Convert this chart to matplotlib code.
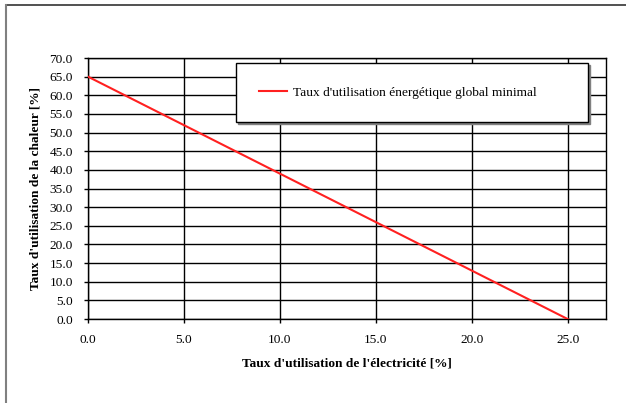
import matplotlib.pyplot as plt
from matplotlib.lines import Line2D

# data
elec_rate = [0.0, 25.0]          # Taux d'utilisation de l'électricité [%]
heat_rate = [65.0, 0.0]          # Taux d'utilisation de la chaleur [%]
x_ticks = [0.0, 5.0, 10.0, 15.0, 20.0, 25.0]
y_ticks = [0.0, 5.0, 10.0, 15.0, 20.0, 25.0, 30.0, 35.0, 40.0, 45.0, 50.0, 55.0, 60.0, 65.0, 70.0]
series_name = "Taux d'utilisation énergétique global minimal"

plt.rcParams['font.family'] = ['Liberation Serif', 'DejaVu Serif']
plt.rcParams['font.size'] = 9.6

fig = plt.figure(figsize=(6.26, 4.03), dpi=100)
ax = fig.add_axes([0.1406, 0.2084, 0.968 - 0.1406, 0.856 - 0.2084])

ax.plot(elec_rate, heat_rate, color='#ff2020', lw=1.5, label=series_name, zorder=3)

ax.set_xlim(0, 27)
ax.set_ylim(0, 70)
ax.set_xticks(x_ticks)
ax.set_yticks(y_ticks)
ax.set_xticklabels([f'{v:.1f}' for v in x_ticks])
ax.set_yticklabels([f'{v:.1f}' for v in y_ticks])
ax.grid(True, color='black', lw=1.0)
ax.set_axisbelow(True)
ax.tick_params(direction='out', length=3, width=1, color='black')
ax.tick_params(axis='x', pad=8)
ax.tick_params(axis='y', pad=8)
for s in ax.spines.values():
    s.set_color('black')
    s.set_linewidth(1.0)

ax.set_xlabel("Taux d'utilisation de l'électricité [%]", fontweight='bold', labelpad=8)
ax.set_ylabel("Taux d'utilisation de la chaleur [%]", fontweight='bold', labelpad=6)

# legend box in figure pixel coords: x 236..588, y 63..122
W, H = 626, 403
leg = ax.legend(loc='upper left', mode='expand',
                bbox_to_anchor=(236 / W, 1 - 122 / H, (588 - 236) / W, (122 - 63) / H),
                bbox_transform=fig.transFigure, borderaxespad=0,
                borderpad=1.75, handlelength=2.1, handletextpad=0.4,
                fancybox=False, framealpha=1, edgecolor='black',
                shadow={'ox': 1.5, 'oy': -1.5, 'color': '#808080', 'alpha': 1})
leg.get_frame().set_linewidth(1.0)

# outer chart border (top and left visible)
fig.add_artist(Line2D([6 / W, 1], [1 - 5 / H, 1 - 5 / H], color='#333333', lw=1.2, transform=fig.transFigure))
fig.add_artist(Line2D([6 / W, 6 / W], [0, 1 - 5 / H], color='#808080', lw=1.5, transform=fig.transFigure))

fig.savefig('out.png', dpi=100)
